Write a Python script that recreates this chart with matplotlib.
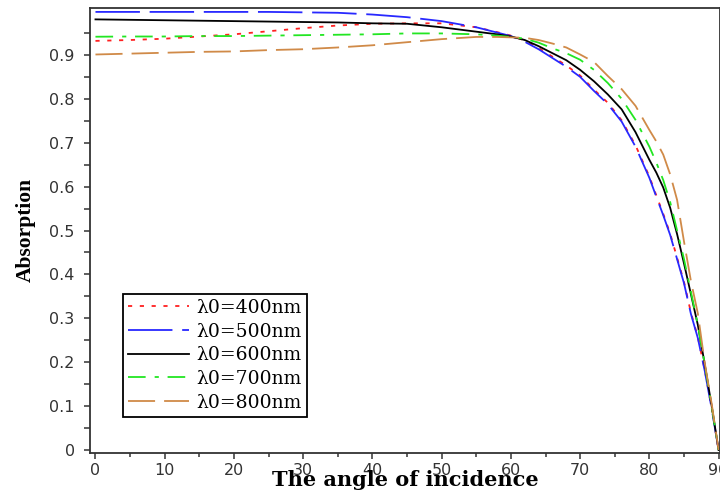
import numpy as np
import matplotlib
matplotlib.use("Agg")
import matplotlib.pyplot as plt
from matplotlib.ticker import MultipleLocator, FixedLocator

# Angle of incidence (degrees)
angles = [0, 5, 10, 15, 20, 25, 30, 35, 40, 45, 50, 55, 58, 60, 62, 64, 66, 68,
          70, 72, 74, 76, 78, 80, 81, 82, 83, 84, 85, 86, 87, 88, 89, 90]

# Absorption for each central wavelength
abs_400 = [0.932, 0.934, 0.937, 0.942, 0.947, 0.954, 0.961, 0.967, 0.971, 0.972, 0.972, 0.963,
           0.952, 0.944, 0.933, 0.916, 0.896, 0.876, 0.853, 0.821, 0.791, 0.751, 0.694, 0.623,
           0.580, 0.538, 0.493, 0.438, 0.383, 0.313, 0.257, 0.182, 0.096, 0.0]
abs_500 = [0.998, 0.998, 0.998, 0.998, 0.998, 0.998, 0.997, 0.996, 0.992, 0.986, 0.977, 0.963,
           0.951, 0.943, 0.930, 0.913, 0.893, 0.873, 0.850, 0.818, 0.788, 0.748, 0.691, 0.620,
           0.577, 0.535, 0.490, 0.435, 0.380, 0.310, 0.255, 0.180, 0.094, 0.0]
abs_600 = [0.981, 0.980, 0.979, 0.978, 0.977, 0.976, 0.975, 0.974, 0.972, 0.971, 0.963, 0.953,
           0.947, 0.942, 0.934, 0.920, 0.904, 0.888, 0.866, 0.840, 0.810, 0.776, 0.724, 0.661,
           0.632, 0.598, 0.552, 0.492, 0.425, 0.355, 0.285, 0.195, 0.100, 0.0]
abs_700 = [0.9415, 0.942, 0.942, 0.943, 0.943, 0.944, 0.945, 0.946, 0.947, 0.949, 0.949, 0.947,
           0.944, 0.941, 0.937, 0.928, 0.915, 0.904, 0.889, 0.866, 0.836, 0.800, 0.752, 0.691,
           0.655, 0.615, 0.565, 0.500, 0.435, 0.360, 0.285, 0.195, 0.100, 0.0]
abs_800 = [0.901, 0.903, 0.905, 0.907, 0.908, 0.911, 0.913, 0.917, 0.922, 0.929, 0.936, 0.941,
           0.941, 0.940, 0.939, 0.934, 0.926, 0.917, 0.901, 0.884, 0.852, 0.822, 0.784, 0.729,
           0.703, 0.673, 0.628, 0.570, 0.475, 0.385, 0.311, 0.198, 0.105, 0.0]

labels = ["λ0=400nm", "λ0=500nm", "λ0=600nm", "λ0=700nm", "λ0=800nm"]
colors = ["#ff2020", "#2828ff", "#000000", "#22e622", "#d08a48"]
dashes = [(3, 5.5), (32, 7), (), (12.7, 6.5, 3, 6.3), (19.5, 6.5)]
series = [abs_400, abs_500, abs_600, abs_700, abs_800]

plt.rcParams["lines.scale_dashes"] = False

fig = plt.figure(figsize=(7.2, 4.95), dpi=100)
ax = fig.add_axes([0.125, 0.0848, 0.875, 0.9])

for y, lab, c, d in zip(series, labels, colors, dashes):
    line, = ax.plot(angles, y, color=c, lw=1.3, label=lab)
    if d:
        line.set_dashes(d)
    else:
        line.set_linestyle("-")

ax.set_xlim(-0.79, 90.2)
ax.set_ylim(-0.0068, 1.008)

ax.xaxis.set_major_locator(MultipleLocator(10))
ax.xaxis.set_minor_locator(MultipleLocator(5))
ax.yaxis.set_major_locator(FixedLocator(np.round(np.arange(0, 0.95, 0.1), 2)))
ax.yaxis.set_minor_locator(FixedLocator(np.round(np.arange(0.05, 1.0, 0.1), 2)))
ax.set_yticklabels(["0"] + [f"{v:.1f}" for v in np.arange(0.1, 0.95, 0.1)])

spine_col = "#333333"
for s in ax.spines.values():
    s.set_color(spine_col)
    s.set_linewidth(1.3)
ax.tick_params(axis="both", which="both", direction="out", color=spine_col,
               width=1.1, labelcolor="#333333", labelsize=11.5)
ax.tick_params(axis="y", which="major", length=4, pad=7)
ax.tick_params(axis="y", which="minor", length=4)
ax.tick_params(axis="x", which="major", length=4.5, pad=3)
ax.tick_params(axis="x", which="minor", length=3)

ax.set_xlabel("The angle of incidence", fontfamily="DejaVu Serif",
              fontweight="bold", fontsize=15)
ax.xaxis.set_label_coords(0.5, -0.038)
ax.set_ylabel("Absorption", fontfamily="Liberation Serif",
              fontweight="bold", fontsize=15.5)
ax.yaxis.set_label_coords(-0.086, 0.5)

leg = ax.legend(loc="lower left", bbox_to_anchor=(0.052, 0.081),
                prop={"family": "DejaVu Serif", "size": 13.5},
                handlelength=3.25, handletextpad=0.4, labelspacing=0.3,
                borderpad=0.29, borderaxespad=0.0, fancybox=False,
                framealpha=1.0, edgecolor="#000000")
leg.get_frame().set_linewidth(1.3)

fig.savefig("out.png", dpi=100)
